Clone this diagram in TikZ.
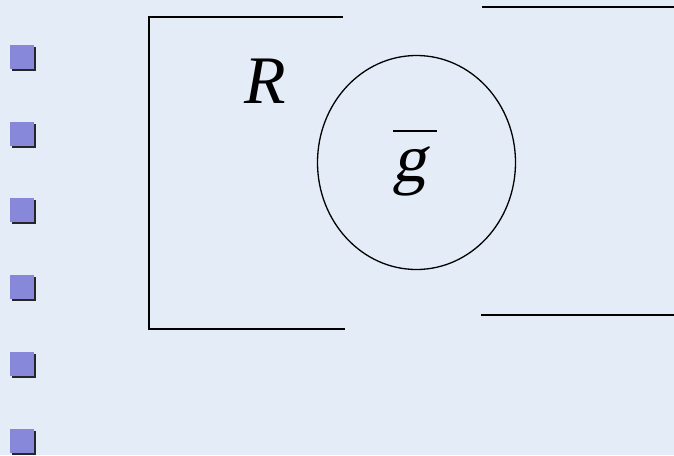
\documentclass[tikz,border=0pt]{standalone}
\usepackage{fontspec}
\setmainfont{Liberation Serif}
\newfontfamily\slantserif[FakeSlant=0.2]{Liberation Serif}
\usetikzlibrary{shapes.geometric,shadows}
\definecolor{bg}{RGB}{227,236,247}
\definecolor{bul}{RGB}{136,136,218}
\begin{document}
\begin{tikzpicture}[x=1pt,y=-1pt,
  bulletbox/.style={anchor=north west, minimum size=24pt, inner sep=0pt, fill=bul, draw=none,
    drop shadow={shadow xshift=2pt, shadow yshift=-2pt, fill=black!85, opacity=1}},
  frameline/.style={line width=1.6pt, black},
  bigtext/.style={inner sep=0pt, anchor=base west, font=\fontsize{68}{68}\selectfont\itshape},
  gtext/.style={inner sep=0pt, anchor=base west, font=\fontsize{68}{68}\selectfont\slantserif}]
\fill[bg] (0,0) rectangle (674,455);
\useasboundingbox (0,0) rectangle (674,455);
% bullets
\node[bulletbox] (b1) at (10,45) {};
\node[bulletbox] (b2) at (10,122) {};
\node[bulletbox] (b3) at (10,198) {};
\node[bulletbox] (b4) at (10,275) {};
\node[bulletbox] (b5) at (10,352) {};
\node[bulletbox] (b6) at (10,429) {};
% bracket
\coordinate (tl) at (149,17);
\coordinate (tr) at (343,17);
\coordinate (bl) at (149,329);
\coordinate (br) at (345,329);
\draw[frameline, line join=miter] (tr) -- (tl) -- (bl) -- (br);
% right lines
\coordinate (r1a) at (482,7);
\coordinate (r1b) at (674,7);
\coordinate (r2a) at (481,315);
\coordinate (r2b) at (674,315);
\draw[frameline] (r1a) -- (r1b);
\draw[frameline] (r2a) -- (r2b);
% circle
\node[draw, line width=1.3pt, ellipse, inner sep=0pt, minimum width=198pt, minimum height=214pt] (c) at (416.5,162.5) {};
% labels
\node[bigtext] (R) at (244,103) {R};
\node[gtext] (g) at (392,181) {g};
\coordinate (gb1) at (393,131);
\coordinate (gb2) at (437,131);
\draw[line width=2pt] (gb1) -- (gb2);
\end{tikzpicture}
\end{document}
